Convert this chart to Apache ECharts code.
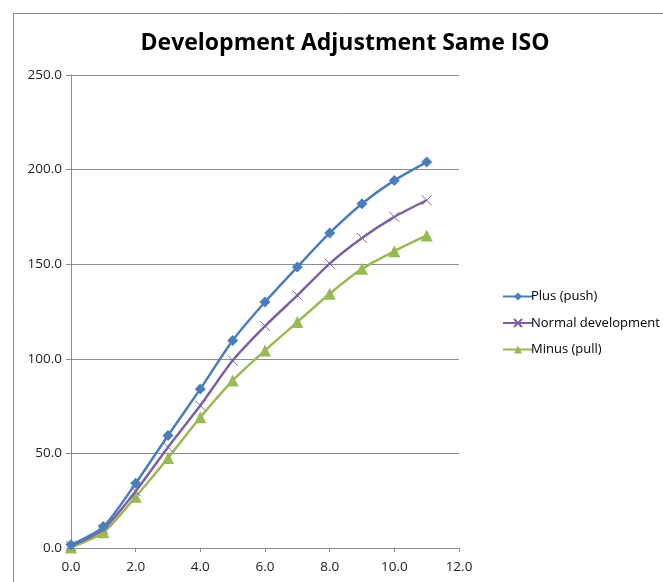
<!DOCTYPE html>
<html>
<head>
<meta charset="utf-8">
<script src="https://cdn.jsdelivr.net/npm/echarts@6/dist/echarts.min.js"></script>
<style>
  html, body { margin: 0; padding: 0; background: #fff; }
  #chart { width: 663px; height: 582px; }
</style>
</head>
<body>
<div id="chart"></div>
<script>
// Development time steps (x) and measured densities for each development regime
const steps = [0, 1, 2, 3, 4, 5, 6, 7, 8, 9, 10, 11];
const plusPush = [1.7, 11.3, 34.2, 59.5, 84.1, 109.7, 130.0, 148.5, 166.5, 182.0, 194.3, 204.0];
const normalDev = [1.0, 10.0, 30.0, 53.3, 75.3, 99.1, 117.3, 133.5, 150.3, 163.8, 175.0, 183.8];
const minusPull = [0.3, 8.3, 27.1, 47.6, 69.1, 88.5, 104.4, 119.4, 134.4, 147.6, 156.9, 165.2];
const seriesNames = ['Plus (push)', 'Normal development', 'Minus (pull)'];
const titleText = 'Development Adjustment Same ISO';

const font = '"Open Sans", "Liberation Sans", sans-serif';
const pairs = (ys) => steps.map((x, i) => [x, ys[i]]);

const chart = echarts.init(document.getElementById('chart'));
chart.setOption({
  animation: false,
  backgroundColor: '#fff',
  graphic: [{
    type: 'rect', left: 11, top: 11, z: -1,
    shape: { width: 700, height: 620 },
    style: { fill: 'none', stroke: '#8c8c8c', lineWidth: 1 }
  }],
  title: {
    text: titleText, left: 340, textAlign: 'center', top: 27,
    textStyle: { fontFamily: font, fontWeight: 'bold', fontSize: 23, color: '#000' }
  },
  legend: {
    orient: 'vertical', left: 497, top: 285, itemGap: 13.5,
    itemWidth: 30, itemHeight: 10,
    textStyle: { fontFamily: font, fontSize: 13, color: '#000', padding: [0, 0, 0, -7] },
    data: seriesNames
  },
  grid: { left: 71, right: 204, top: 75, bottom: 34 },
  xAxis: {
    type: 'value', min: 0, max: 12, interval: 2,
    axisLine: { lineStyle: { color: '#8c8c8c' } },
    axisTick: { show: true, length: 4, lineStyle: { color: '#8c8c8c' } },
    axisLabel: { fontFamily: font, fontSize: 13.5, color: '#222', margin: 12,
      formatter: v => v.toFixed(1) },
    splitLine: { show: false }
  },
  yAxis: {
    type: 'value', min: 0, max: 250, interval: 50,
    axisLine: { show: true, lineStyle: { color: '#8c8c8c' } },
    axisTick: { show: true, length: 5, lineStyle: { color: '#8c8c8c' } },
    axisLabel: { fontFamily: font, fontSize: 13.5, color: '#222', margin: 9,
      formatter: v => v.toFixed(1) },
    splitLine: { show: true, lineStyle: { color: '#8c8c8c' } }
  },
  series: [
    {
      name: seriesNames[0], type: 'line', data: pairs(plusPush), smooth: 0.25,
      symbol: 'diamond', symbolSize: 11,
      lineStyle: { color: '#4a7ebb', width: 2.5 },
      itemStyle: { color: '#4a7ebb' }, z: 3
    },
    {
      name: seriesNames[1], type: 'line', data: pairs(normalDev), smooth: 0.25,
      symbol: 'path://M0,0L10,10M10,0L0,10', symbolSize: 10,
      lineStyle: { color: '#7d60a0', width: 2.5 },
      itemStyle: { color: '#7d60a0', borderColor: '#7d60a0', borderWidth: 1 }, z: 2
    },
    {
      name: seriesNames[2], type: 'line', data: pairs(minusPull), smooth: 0.25,
      symbol: 'triangle', symbolSize: 12,
      lineStyle: { color: '#98b954', width: 2.5 },
      itemStyle: { color: '#98b954' }, z: 1
    }
  ]
});
</script>
</body>
</html>
